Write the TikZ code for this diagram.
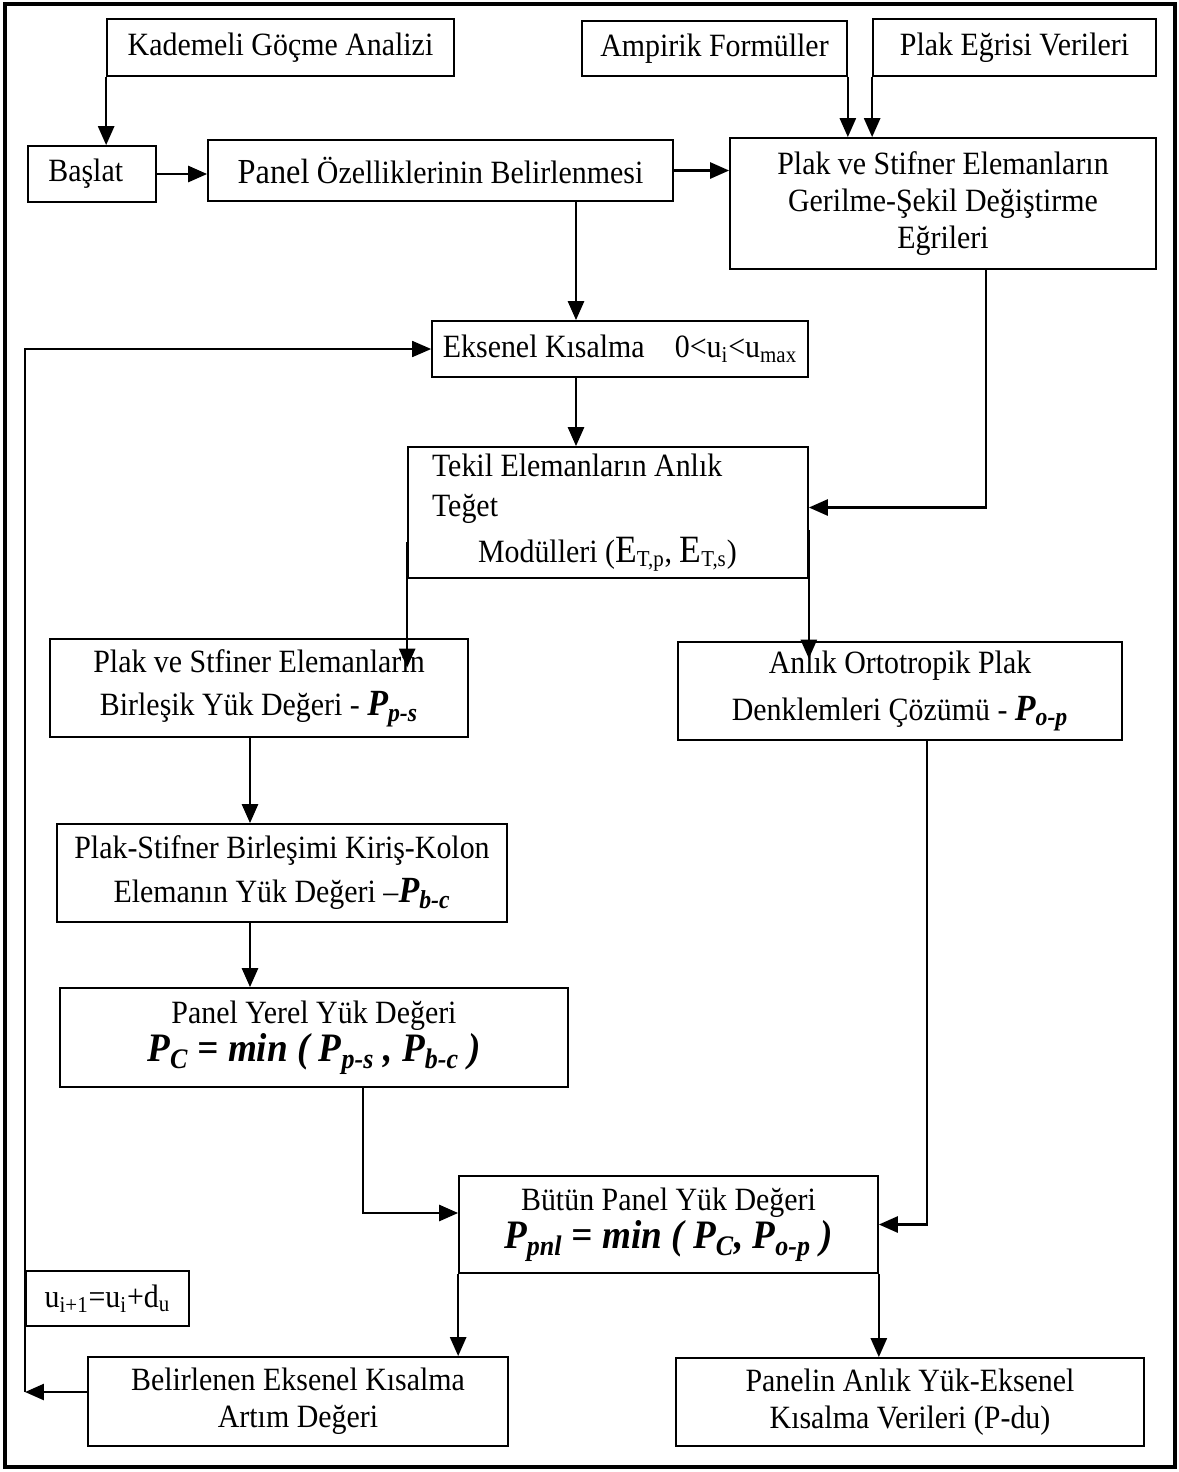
\documentclass[tikz,border=0pt]{standalone}
\usepackage{fontspec}
\setmainfont{Liberation Serif}[FakeStretch=0.92]
\usepackage{tikz}
\usetikzlibrary{arrows.meta, positioning}
\newcommand{\bip}[1]{\textbf{\textit{#1}}}
\newcommand{\bigE}{{\fontsize{22}{22}\selectfont E}}

\begin{document}
\begin{tikzpicture}[x=0.02cm, y=-0.02cm,
    block/.style={rectangle, draw=black, line width=1pt, inner sep=0pt, align=center,
                  font=\fontsize{18.5}{21}\selectfont},
    arrow/.style={-{Triangle[length=3.8mm, width=3.2mm]}, line width=1.5pt},
    loopline/.style={arrow, line width=1pt}
]
\useasboundingbox (0,0) rectangle (1179,1472);
\draw[line width=2.4pt] (5,4) rectangle (1175,1467);

% ust sira
\node[block, minimum width=6.94cm, minimum height=1.14cm] (kgo) at (280.5,47.5) {Kademeli Göçme Analizi};
\node[block, minimum width=5.3cm, minimum height=1.1cm] (amp) at (714.5,48.5) {Ampirik Formüller};
\node[block, minimum width=5.66cm, minimum height=1.14cm] (peg) at (1014.5,47.5) {Plak Eğrisi Verileri};
\node[block, minimum width=2.56cm, minimum height=1.12cm] (bas) at (92,174) {Başlat\hspace{0.25cm}};
\node[block, minimum width=9.3cm, minimum height=1.22cm] (pob) at (440.5,170.5)
    {{\fontsize{20}{21}\selectfont Panel} Özelliklerinin Belirlenmesi};
\node[block, minimum width=8.52cm, minimum height=2.62cm] (gse) at (943,203.5)
    {Plak ve Stifner Elemanların\\Gerilme-Şekil Değiştirme\\Eğrileri};

% orta kisim
\node[block, minimum width=7.52cm, minimum height=1.12cm] (eks) at (620,349)
    {Eksenel Kısalma\hspace{0.7em} 0<u\textsubscript{i}<u\textsubscript{max}};
\node[block, align=flush left, text width=7.04cm, inner xsep=0.48cm, minimum height=2.62cm] (tek) at (608,512.5)
    {Tekil Elemanların Anlık\\[2pt]Teğet\\[5pt]\hspace*{0.92cm}Modülleri (\bigE\textsubscript{T,p}, \bigE\textsubscript{T,s})};
\node[block, minimum width=8.36cm, minimum height=1.96cm] (bir) at (259,688)
    {Plak ve Stfiner Elemanların\\[4pt]Birleşik Yük Değeri - {\fontsize{21}{21}\selectfont\bip{P\textsubscript{p-s}}}};
\node[block, minimum width=8.88cm, minimum height=1.96cm] (ort) at (900,691)
    {Anlık Ortotropik Plak\\[6pt]Denklemleri Çözümü - {\fontsize{21}{21}\selectfont\bip{P\textsubscript{o-p}}}};
\node[block, minimum width=9cm, minimum height=1.96cm] (pkk) at (282,873)
    {Plak-Stifner Birleşimi Kiriş-Kolon\\[4pt]Elemanın Yük Değeri –{\fontsize{21}{21}\selectfont\bip{P\textsubscript{b-c}}}};
\node[block, minimum width=10.16cm, minimum height=1.98cm] (pyy) at (314,1037.5)
    {Panel Yerel Yük Değeri\\[1pt]{\fontsize{23}{23}\selectfont\bip{P\textsubscript{C} = min ( P\textsubscript{p-s} , P\textsubscript{b-c} )}}};
\node[block, minimum width=8.38cm, minimum height=1.94cm] (bpy) at (668.5,1224.5)
    {Bütün Panel Yük Değeri\\[1pt]{\fontsize{23}{23}\selectfont\bip{P\textsubscript{pnl} = min ( P\textsubscript{C}, P\textsubscript{o-p} )}}};

% alt sira
\node[block, minimum width=3.26cm, minimum height=1.1cm] (ufo) at (107.5,1298.5)
    {u\textsubscript{i+1}=u\textsubscript{i}+d\textsubscript{u}};
\node[block, minimum width=8.4cm, minimum height=1.78cm] (bek) at (298,1401.5)
    {Belirlenen Eksenel Kısalma\\Artım Değeri};
\node[block, minimum width=9.36cm, minimum height=1.76cm] (pav) at (910,1402)
    {Panelin Anlık Yük-Eksenel\\Kısalma Verileri (P-du)};

\coordinate (lp) at (25,1392);

% baglantilar
\draw[arrow] (kgo.south west) -- (kgo.south west |- bas.north);
\draw[arrow] (bas.east) -- (bas.east -| pob.west);
\draw[arrow] (pob.east) -- (pob.east -| gse.west);
\draw[arrow] (amp.south east) -- (amp.south east |- gse.north);
\draw[arrow] (peg.south west) -- (peg.south west |- gse.north);
\draw[arrow] ([xshift=-0.88cm]eks.north |- pob.south) -- ([xshift=-0.88cm]eks.north);
\draw[arrow] ([xshift=-0.88cm]eks.south) -- ([xshift=-0.88cm]eks.south |- tek.north);
\draw[arrow] ([xshift=0.86cm]gse.south) |- ([yshift=0.1cm]tek.east);
\draw[arrow] ([yshift=-0.59cm]tek.west) -- ([yshift=-0.59cm]tek.west |- bir.north);
\draw[arrow] ([yshift=-0.35cm]tek.east) -- ([yshift=-0.35cm]tek.east |- ort.north);
\draw[arrow] ([xshift=-0.18cm]bir.south) -- ([xshift=-0.18cm]bir.south |- pkk.north);
\draw[arrow] ([xshift=-0.64cm]pkk.south) -- ([xshift=-0.64cm]pkk.south |- pyy.north);
\draw[arrow] ([xshift=0.98cm]pyy.south) |- ([yshift=0.23cm]bpy.west);
\draw[arrow] ([xshift=0.54cm]ort.south) |- (bpy.east);
\draw[arrow] (bpy.south west) -- (bpy.south west |- bek.north);
\draw[arrow] (bpy.south east) -- (bpy.south east |- pav.north);
\draw[arrow] (lp -| bek.west) -- (lp);
\draw[loopline] (lp) |- (eks.west);
\end{tikzpicture}
\end{document}
